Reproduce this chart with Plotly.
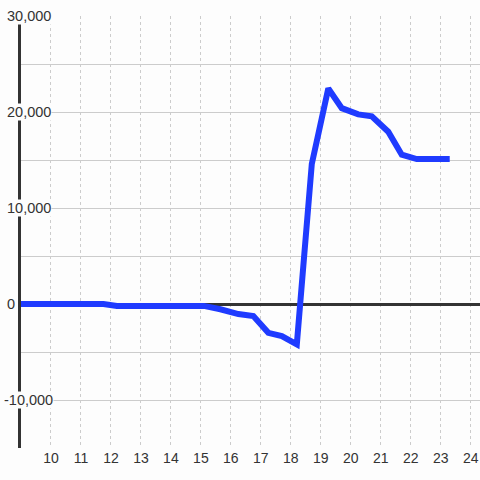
import plotly.graph_objects as go

x_vals = [9.0, 11.75, 12.2, 15.1, 15.65, 16.25, 16.75, 17.25, 17.7, 18.2,
          18.7, 19.25, 19.7, 20.25, 20.7, 21.25, 21.7, 22.2, 22.75, 23.3]
y_vals = [0, 0, -200, -200, -550, -1050, -1250, -3000, -3350, -4200,
          14600, 22450, 20400, 19750, 19550, 17950, 15550, 15100, 15100, 15100]
x_ticks = list(range(10, 25))
y_label_vals = [-10000, 0, 10000, 20000, 30000]
y_label_text = ["-10,000", "0", "10,000", "20,000", "30,000"]

BG = "#fdfdfd"
FONT = dict(family="Liberation Sans, Arial, sans-serif", size=14, color="#333333")
YFONT = dict(family="Liberation Sans, Arial, sans-serif", size=14.5, color="#333333")

fig = go.Figure()
fig.add_trace(go.Scatter(x=x_vals, y=y_vals, mode="lines",
                         line=dict(color="#1f3bff", width=6),
                         hoverinfo="skip", showlegend=False))

for v, t in zip(y_label_vals, y_label_text):
    left_x = -0.0403 if t.startswith("-") else -0.0316
    fig.add_annotation(x=left_x, xref="paper", y=v, yref="y", text=t,
                       showarrow=False, xanchor="left", yanchor="middle",
                       font=YFONT, bgcolor=BG, borderpad=0)

fig.update_layout(
    width=480, height=480,
    margin=dict(l=21, r=0, t=16, b=32),
    paper_bgcolor=BG, plot_bgcolor=BG,
    font=FONT,
    xaxis=dict(range=[9, 24.31], tickvals=x_ticks, showgrid=True,
               gridcolor="#cccccc", griddash="3px,3px", gridwidth=1,
               zeroline=False, showline=False, ticks="", tickfont=FONT),
    yaxis=dict(range=[-15000, 30000], dtick=5000, showticklabels=False,
               showgrid=True, gridcolor="#cccccc", gridwidth=1,
               zeroline=True, zerolinecolor="#333333", zerolinewidth=3,
               showline=True, linecolor="#333333", linewidth=3, ticks=""),
)

fig.write_html("out.html",
               config={"displayModeBar": False},
               post_script="document.body.style.margin='0';document.body.style.overflow='hidden';document.body.style.background='#fdfdfd';")
